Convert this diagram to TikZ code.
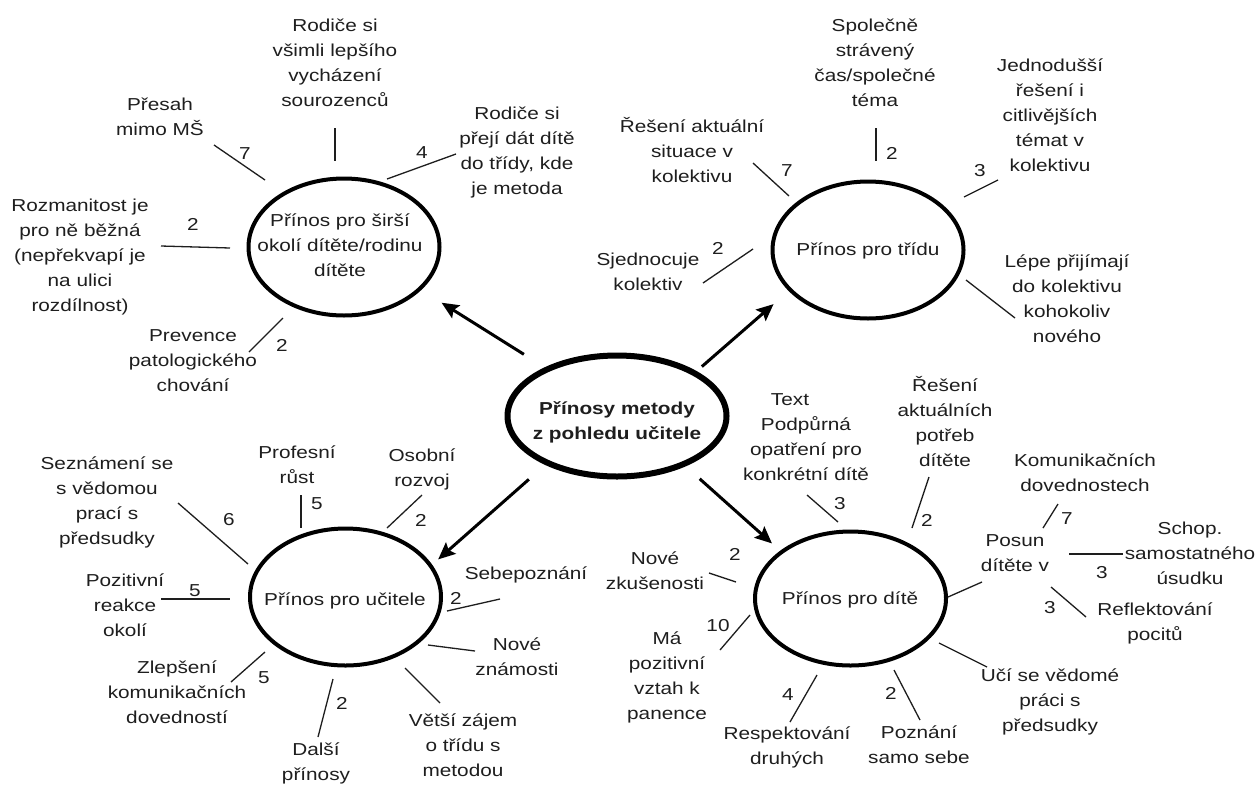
\documentclass[tikz,border=0pt]{standalone}
\usepackage{fontspec}
\setmainfont[FakeStretch=1.2]{Liberation Sans}
\usetikzlibrary{shapes.geometric,arrows.meta}
\definecolor{txt}{RGB}{30,30,30}
\newcommand{\lblfont}{\fontsize{17.3}{25}\selectfont}
\newcommand{\boldlblfont}{\fontsize{17.3}{25}\selectfont\bfseries}
\begin{document}
\begin{tikzpicture}[x=1pt,y=-1pt,
  lbl/.style={align=center, inner sep=0pt, outer sep=0pt, font=\lblfont, text=txt,
    execute at begin node=\strut, execute at end node=\strut},
  sat/.style={ellipse, draw=black, line width=4pt, minimum width=191pt,
    minimum height=137pt, inner sep=0pt, outer sep=0pt},
  mainell/.style={ellipse, draw=black, line width=6pt, minimum width=219pt,
    minimum height=121pt, inner sep=0pt, outer sep=0pt},
  arr/.style={line width=3pt, draw=black, -{Stealth[length=17pt,width=15pt,inset=3pt]}},
  tick/.style={line width=1.3pt, draw=txt}]
\useasboundingbox (0,0) rectangle (1257,785);
\fill[white] (0,0) rectangle (1257,785);

% ellipses
\node[sat] (tl) at (344,247) {};
\node[sat] (tr) at (868,250) {};
\node[sat] (bl) at (345.5,597) {};
\node[sat, minimum height=134pt] (br) at (850.5,598.5) {};
\node[mainell] (c) at (617,416) {};

% ellipse texts
\node[lbl] (tlT) at (340,248.5) {Přínos pro širší\\okolí dítěte/rodinu\\dítěte};
\node[lbl] (trT) at (868,250) {Přínos pro třídu};
\node[lbl] (blT) at (345,600) {Přínos pro učitele};
\node[lbl] (brT) at (850,599) {Přínos pro dítě};
\node[lbl, font=\boldlblfont] (cT) at (617,424.5) {Přínosy metody\\z pohledu učitele};

% arrows
\draw[arr, shorten <=28pt, shorten >=26pt] (c.146) -- (tl.331);
\draw[arr, shorten <=10pt, shorten >=22pt] (c.29.5) -- (tr.207);
\draw[arr, shorten <=25pt, shorten >=10pt] (c.214) -- (bl.20);
\draw[arr, shorten <=22pt, shorten >=13pt] (c.324) -- (br.146);

% ---- top-left group
\node[lbl] (rodice1) at (335,66.5) {Rodiče si\\všimli lepšího\\vycházení\\sourozenců};
\node[lbl] (presah) at (160,120) {Přesah\\mimo MŠ};
\node[lbl] (rodice2) at (517,154.5) {Rodiče si\\přejí dát dítě\\do třídy, kde\\je metoda};
\node[lbl] (rozman) at (80,259) {Rozmanitost je\\pro ně běžná\\(nepřekvapí je\\na ulici\\rozdílnost)};
\node[lbl] (prevence) at (193,364) {Prevence\\patologického\\chování};
\node[lbl] (nPresah) at (245,154) {7};
\node[lbl] (nRodice2) at (422,153) {4};
\node[lbl] (nRozman) at (193,225) {2};
\node[lbl] (nPrevence) at (282,346) {2};
\draw[tick] (335,128) -- (335,161);
\draw[tick] (214,145) -- (265,180);
\draw[tick] (387,179) -- (456,154);
\draw[tick] (161,246) -- (230,248);
\draw[tick] (249,352) -- (283,318);

% ---- top-right group
\node[lbl] (spolecne) at (875,66.5) {Společně\\strávený\\čas/společné\\téma};
\node[lbl] (jednodussi) at (1050,119) {Jednodušší\\řešení i\\citlivějších\\témat v\\kolektivu};
\node[lbl] (lepe) at (1067,302.5) {Lépe přijímají\\do kolektivu\\kohokoliv\\nového};
\node[lbl] (reseniSit) at (692,153.5) {Řešení aktuální\\situace v\\kolektivu};
\node[lbl] (sjednocuje) at (648,275.5) {Sjednocuje\\kolektiv};
\node[lbl] (nSpolecne) at (892,154) {2};
\node[lbl] (nJednodussi) at (980,171) {3};
\node[lbl] (nReseniSit) at (787,171) {7};
\node[lbl] (nSjednocuje) at (718,249) {2};
\draw[tick] (876,128) -- (876,161);
\draw[tick] (964,197) -- (998,180);
\draw[tick] (966,280) -- (1015,318);
\draw[tick] (753,163) -- (789,196);
\draw[tick] (703,283) -- (753,249);

% ---- bottom-left group
\node[lbl] (profesni) at (297,468.5) {Profesní\\růst};
\node[lbl] (osobni) at (422,471) {Osobní\\rozvoj};
\node[lbl] (seznameni) at (107,504.5) {Seznámení se\\s vědomou\\prací s\\předsudky};
\node[lbl] (pozitivni) at (125,609) {Pozitivní\\reakce\\okolí};
\node[lbl] (zlepseni) at (177,695.5) {Zlepšení\\komunikačních\\dovedností};
\node[lbl] (dalsi) at (316,765.5) {Další\\přínosy};
\node[lbl] (sebepozn) at (526,574) {Sebepoznání};
\node[lbl] (noveZnam) at (517,660.5) {Nové\\známosti};
\node[lbl] (vetsi) at (463,748.5) {Větší zájem\\o třídu s\\metodou};
\node[lbl] (nProfesni) at (317,504) {5};
\node[lbl] (nOsobni) at (421,521) {2};
\node[lbl] (nSeznameni) at (229,520) {6};
\node[lbl] (nPozitivni) at (195,591) {5};
\node[lbl] (nZlepseni) at (264,678) {5};
\node[lbl] (nDalsi) at (342,704) {2};
\node[lbl] (nSebepozn) at (456,599) {2};
\draw[tick] (301,495) -- (301,528);
\draw[tick] (387,528) -- (422,495);
\draw[tick] (178,503) -- (248,564);
\draw[tick] (161,599) -- (230,599);
\draw[tick] (231,682) -- (265,652);
\draw[tick] (318,737) -- (333,679);
\draw[tick] (447,611) -- (500,599);
\draw[tick] (428,645) -- (475,651);
\draw[tick] (405,668) -- (440,703);

% ---- bottom-right group
\node[lbl] (textT) at (790,400) {Text};
\node[lbl] (podpurna) at (806,452) {Podpůrná\\opatření pro\\konkrétní dítě};
\node[lbl] (reseniPot) at (945,425.5) {Řešení\\aktuálních\\potřeb\\dítěte};
\node[lbl] (posun) at (1015,556.5) {Posun\\dítěte v};
\node[lbl] (komunik) at (1085,476.5) {Komunikačních\\dovednostech};
\node[lbl] (schop) at (1190,557) {Schop.\\samostatného\\úsudku};
\node[lbl] (reflekt) at (1155,625.5) {Reflektování\\pocitů};
\node[lbl] (uci) at (1050,704) {Učí se vědomé\\práci s\\předsudky};
\node[lbl] (poznani) at (919,748.5) {Poznání\\samo sebe};
\node[lbl] (respekt) at (787,749.5) {Respektování\\druhých};
\node[lbl] (maPoz) at (667,679.5) {Má\\pozitivní\\vztah k\\panence};
\node[lbl] (noveZk) at (655,574.5) {Nové\\zkušenosti};
\node[lbl] (nPodpurna) at (840,504) {3};
\node[lbl] (nReseniPot) at (927,521) {2};
\node[lbl] (nKomunik) at (1067,519) {7};
\node[lbl] (nSchop) at (1102,573) {3};
\node[lbl] (nReflekt) at (1050,608) {3};
\node[lbl] (nPoznani) at (891,694) {2};
\node[lbl] (nRespekt) at (788,695) {4};
\node[lbl] (nMaPoz) at (718,626) {10};
\node[lbl] (nNoveZk) at (735,555) {2};
\draw[tick] (807,495) -- (838,522);
\draw[tick] (929,477) -- (912,528);
\draw[tick] (948,597) -- (982,582);
\draw[tick] (1043,528) -- (1058,504);
\draw[tick] (1069,554) -- (1123,554);
\draw[tick] (1051,587) -- (1086,617);
\draw[tick] (939,643) -- (987,667);
\draw[tick] (894,670) -- (920,720);
\draw[tick] (790,722) -- (817,675);
\draw[tick] (720,650) -- (750,615);
\draw[tick] (709,573) -- (736,582);
\end{tikzpicture}
\end{document}
